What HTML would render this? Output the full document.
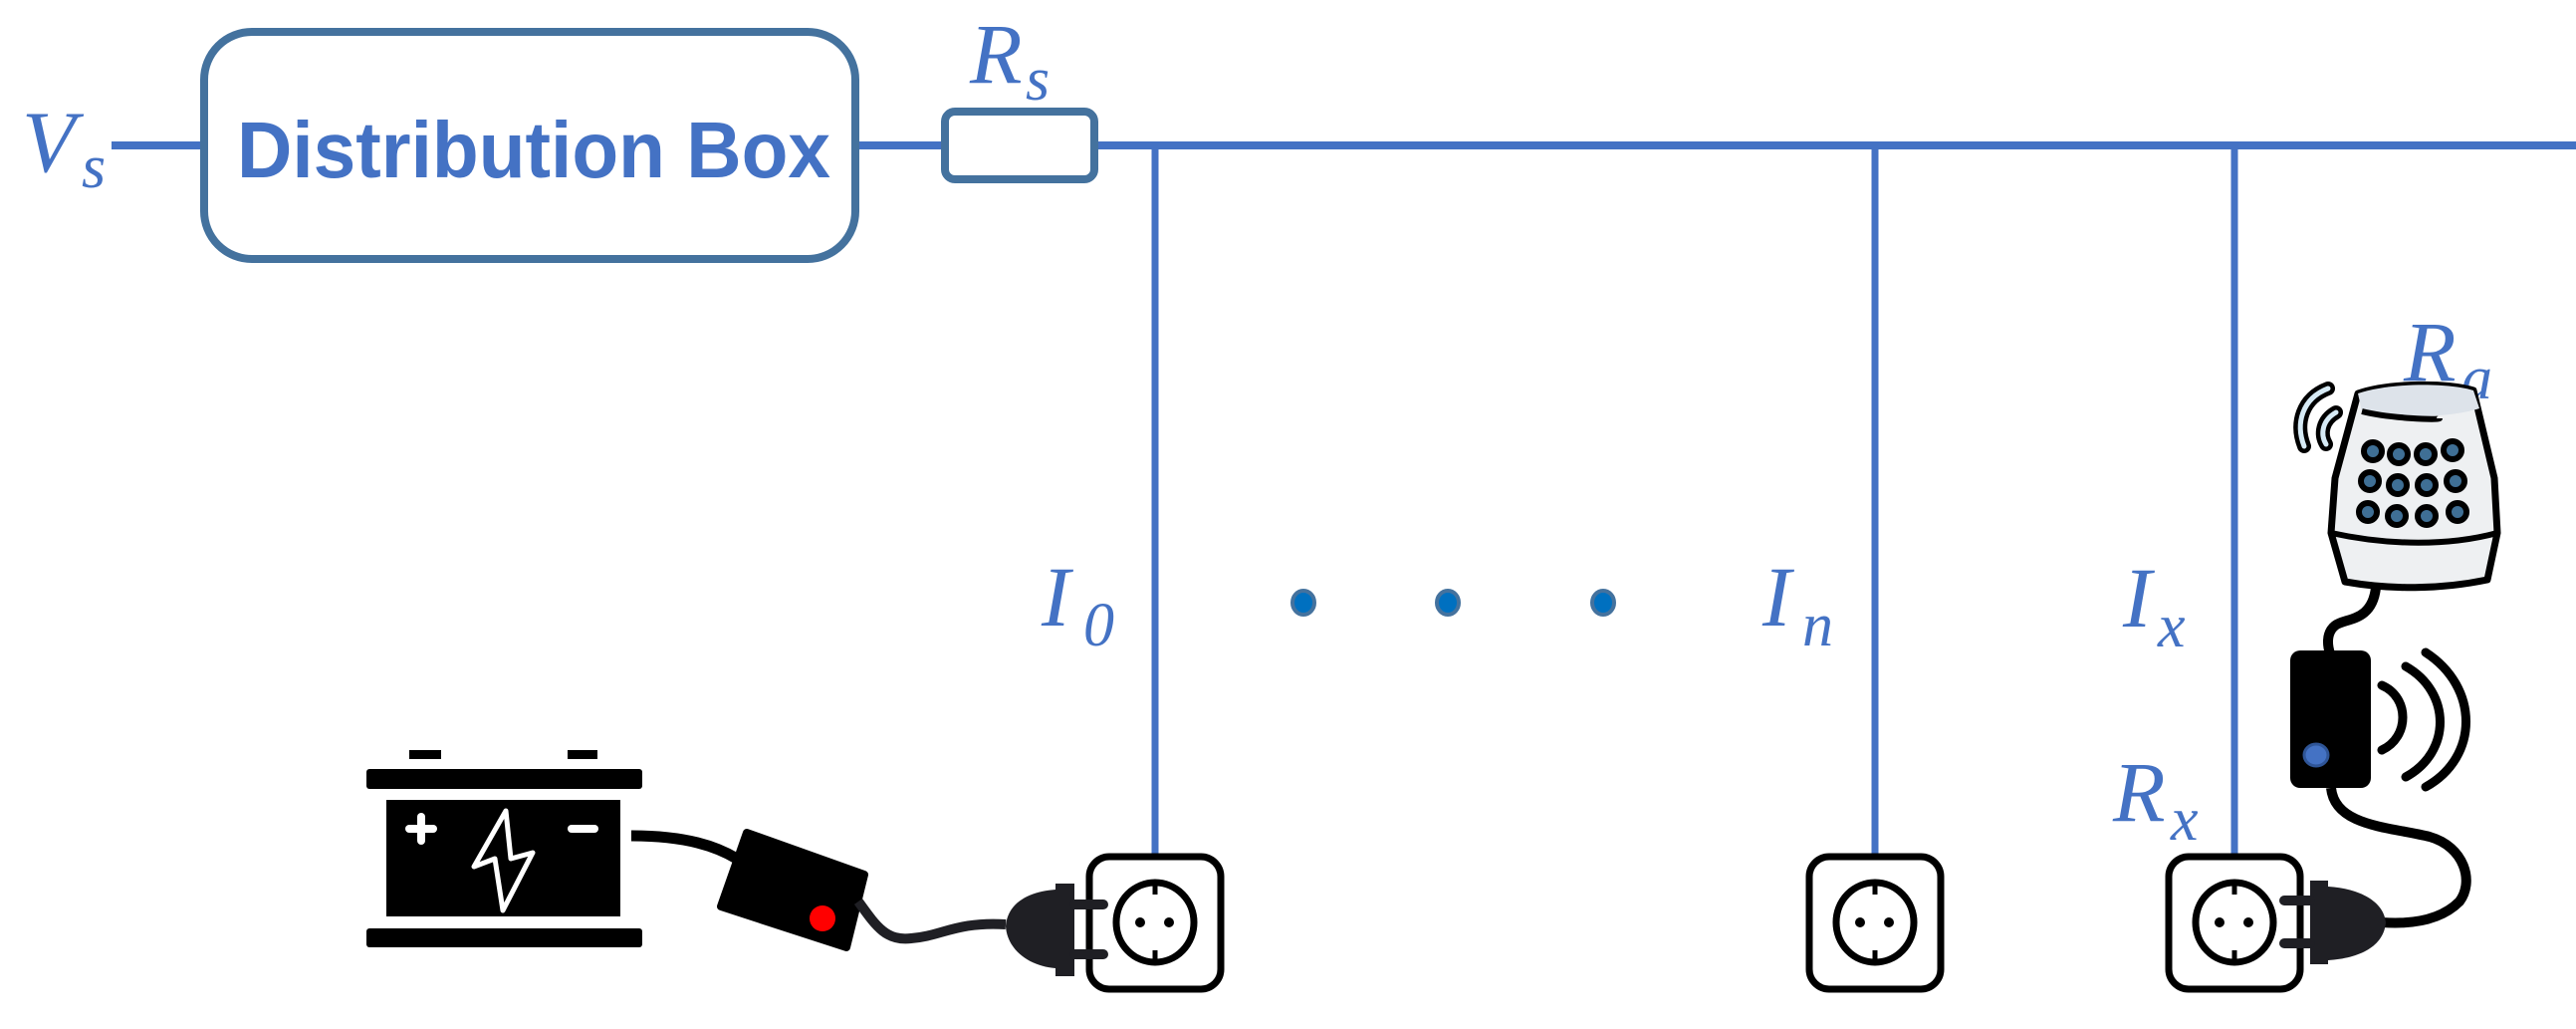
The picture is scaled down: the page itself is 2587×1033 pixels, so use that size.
<!DOCTYPE html>
<html><head><meta charset="utf-8"><style>
html,body{margin:0;padding:0;background:#fff;}
svg{display:block}
.m{font-family:"Liberation Serif",serif;font-style:italic;fill:#4472c4}
</style></head><body>
<svg width="2587" height="1033" viewBox="0 0 2587 1033" xmlns="http://www.w3.org/2000/svg">
<!-- wires -->
<g stroke="#4472c4" fill="none">
<line x1="112" y1="146" x2="201" y2="146" stroke-width="8"/>
<line x1="863" y1="146" x2="945" y2="146" stroke-width="8"/>
<line x1="1103" y1="146" x2="2587" y2="146" stroke-width="8"/>
<line x1="1160" y1="146" x2="1160" y2="857" stroke-width="7"/>
<line x1="1883" y1="146" x2="1883" y2="857" stroke-width="7"/>
<line x1="2244" y1="146" x2="2244" y2="857" stroke-width="7"/>
</g>
<!-- distribution box -->
<rect x="205" y="32" width="654" height="228" rx="48" fill="#fff" stroke="#44729e" stroke-width="8"/>
<text x="238" y="178" font-family="Liberation Sans,sans-serif" font-weight="bold" font-size="80" fill="#4472c4" textLength="596" lengthAdjust="spacingAndGlyphs">Distribution Box</text>
<rect x="949" y="112" width="150" height="68" rx="10" fill="#fff" stroke="#44729e" stroke-width="8"/>
<!-- labels -->
<text class="m" x="22" y="172" font-size="88">V</text><text class="m" x="82" y="188" font-size="62">s</text>
<text class="m" x="974" y="83" font-size="86">R</text><text class="m" x="1030" y="100" font-size="62">s</text>
<text class="m" x="1046" y="628" font-size="86">I</text><text class="m" x="1088" y="648" font-size="62">0</text>
<text class="m" x="1770" y="628" font-size="86">I</text><text class="m" x="1810" y="648" font-size="62">n</text>
<text class="m" x="2132" y="629" font-size="86">I</text><text class="m" x="2167" y="649" font-size="62">x</text>
<text class="m" x="2122" y="824" font-size="86">R</text><text class="m" x="2180" y="843" font-size="62">x</text>
<text class="m" x="2414" y="382" font-size="86">R</text><text class="m" x="2472" y="400" font-size="62">a</text>
<!-- dots -->
<g fill="#0070c0" stroke="#44729e" stroke-width="4">
<ellipse cx="1309" cy="605" rx="11" ry="12"/><ellipse cx="1454" cy="605" rx="11" ry="12"/><ellipse cx="1610" cy="605" rx="11" ry="12"/>
</g>
<!-- sockets -->
<g fill="#fff" stroke="#000" stroke-width="7">
<rect x="1094" y="860" width="132" height="133" rx="20"/>
<ellipse cx="1160" cy="926" rx="39" ry="40"/>
<rect x="1817" y="860" width="132" height="133" rx="20"/>
<ellipse cx="1883" cy="926" rx="39" ry="40"/>
<rect x="2178" y="860" width="132" height="133" rx="20"/>
<ellipse cx="2244" cy="926" rx="39" ry="40"/>
</g>
<g stroke="#000" stroke-width="5">
<line x1="1160" y1="886" x2="1160" y2="898"/><line x1="1160" y1="954" x2="1160" y2="966"/>
<line x1="1883" y1="886" x2="1883" y2="898"/><line x1="1883" y1="954" x2="1883" y2="966"/>
<line x1="2244" y1="886" x2="2244" y2="898"/><line x1="2244" y1="954" x2="2244" y2="966"/>
</g>
<g fill="#000">
<circle cx="1145" cy="926" r="5"/><circle cx="1174" cy="926" r="5"/>
<circle cx="1868" cy="926" r="5"/><circle cx="1897" cy="926" r="5"/>
<circle cx="2229" cy="926" r="5"/><circle cx="2258" cy="926" r="5"/>
</g>
<!-- battery -->
<g fill="#000">
<rect x="411" y="753" width="32" height="9"/><rect x="570" y="753" width="30" height="9"/>
<rect x="368" y="772" width="277" height="20" rx="3"/>
<rect x="388" y="803" width="235" height="117"/>
<rect x="368" y="932" width="277" height="19" rx="3"/>
</g>
<g stroke="#fff" stroke-width="8" stroke-linecap="round" fill="none">
<line x1="411" y1="832" x2="435" y2="832"/><line x1="423" y1="820" x2="423" y2="844"/>
<line x1="574" y1="832" x2="597" y2="832"/>
</g>
<path d="M508 814 L476 870 L497 862 L505 914 L535 856 L513 862 Z" fill="none" stroke="#fff" stroke-width="5" stroke-linejoin="round"/>
<!-- battery cable -->
<path d="M634 839 C690 839 720 850 740 862" stroke="#000" stroke-width="11" fill="none"/>
<polygon points="750,836 868,878 850,951 724,910" fill="#000" stroke="#000" stroke-width="8" stroke-linejoin="round"/>
<circle cx="826" cy="922" r="13" fill="#f00"/>
<path d="M862 905 C880 930 890 945 915 942 C945 940 960 925 1010 928" stroke="#1f1f24" stroke-width="10" fill="none"/>
<!-- plug 1 -->
<path d="M1060 887 L1079 887 L1079 980 L1060 980 L1060 972 C1035 970 1012 955 1010 930 C1012 905 1035 895 1060 893 Z" fill="#1f1f24"/>
<g stroke="#1f1f24" stroke-width="10" stroke-linecap="round"><line x1="1079" y1="908" x2="1108" y2="908"/><line x1="1079" y1="958" x2="1108" y2="958"/></g>
<!-- speaker -->
<path d="M2368 395 C2400 384 2460 384 2484 392 L2505 480 L2508 535 L2498 582 C2450 592 2400 592 2355 584 L2341 535 L2345 480 Z" fill="#eef0f2" stroke="#000" stroke-width="7" stroke-linejoin="round"/>
<path d="M2368 395 C2400 384 2460 384 2484 392 L2490 410 C2460 420 2400 420 2372 413 Z" fill="#dde3ea"/>
<path d="M2372 413 C2400 420 2450 422 2450 420" stroke="#000" stroke-width="6" fill="none"/>
<path d="M2341 535 C2400 548 2460 548 2508 535" stroke="#000" stroke-width="6" fill="none"/>
<g fill="#3f6f95" stroke="#000" stroke-width="6">
<circle cx="2383" cy="453" r="9"/><circle cx="2409" cy="456" r="9"/><circle cx="2436" cy="456" r="9"/><circle cx="2463" cy="452" r="9"/>
<circle cx="2380" cy="483" r="9"/><circle cx="2408" cy="487" r="9"/><circle cx="2437" cy="487" r="9"/><circle cx="2466" cy="483" r="9"/>
<circle cx="2378" cy="514" r="9"/><circle cx="2407" cy="518" r="9"/><circle cx="2437" cy="518" r="9"/><circle cx="2468" cy="514" r="9"/>
</g>
<g stroke="#000" stroke-width="14" stroke-linecap="round" fill="none">
<path d="M2338 390 C2312 400 2305 425 2314 448"/><path d="M2346 414 C2332 422 2330 436 2336 446"/>
</g>
<g stroke="#d6eaf5" stroke-width="5" stroke-linecap="round" fill="none">
<path d="M2338 390 C2312 400 2305 425 2314 448"/><path d="M2346 414 C2332 422 2330 436 2336 446"/>
</g>
<!-- cord speaker to box -->
<path d="M2386 590 C2382 625 2355 620 2345 628 C2335 636 2338 650 2340 656" stroke="#000" stroke-width="10" fill="none"/>
<rect x="2300" y="653" width="81" height="138" rx="10" fill="#000"/>
<ellipse cx="2326" cy="758" rx="12" ry="11" fill="#4472c4" stroke="#2f5597" stroke-width="3"/>
<g stroke="#000" stroke-width="9" stroke-linecap="round" fill="none">
<path d="M2392 688 C2420 700 2420 740 2392 753"/>
<path d="M2416 669 C2462 695 2462 755 2416 780"/>
<path d="M2436 655 C2490 690 2490 760 2436 790"/>
</g>
<path d="M2341 791 C2345 830 2400 830 2440 840 C2475 850 2485 885 2470 905 C2450 925 2420 928 2392 926" stroke="#000" stroke-width="10" fill="none"/>
<!-- plug 3 -->
<path d="M2320 884 L2338 884 L2338 890 C2370 892 2394 905 2396 926 C2394 950 2370 962 2338 964 L2338 968 L2320 968 Z" fill="#1f1f24"/>
<g stroke="#1f1f24" stroke-width="10" stroke-linecap="round"><line x1="2294" y1="904" x2="2320" y2="904"/><line x1="2294" y1="947" x2="2320" y2="947"/></g>
</svg>
</body></html>
